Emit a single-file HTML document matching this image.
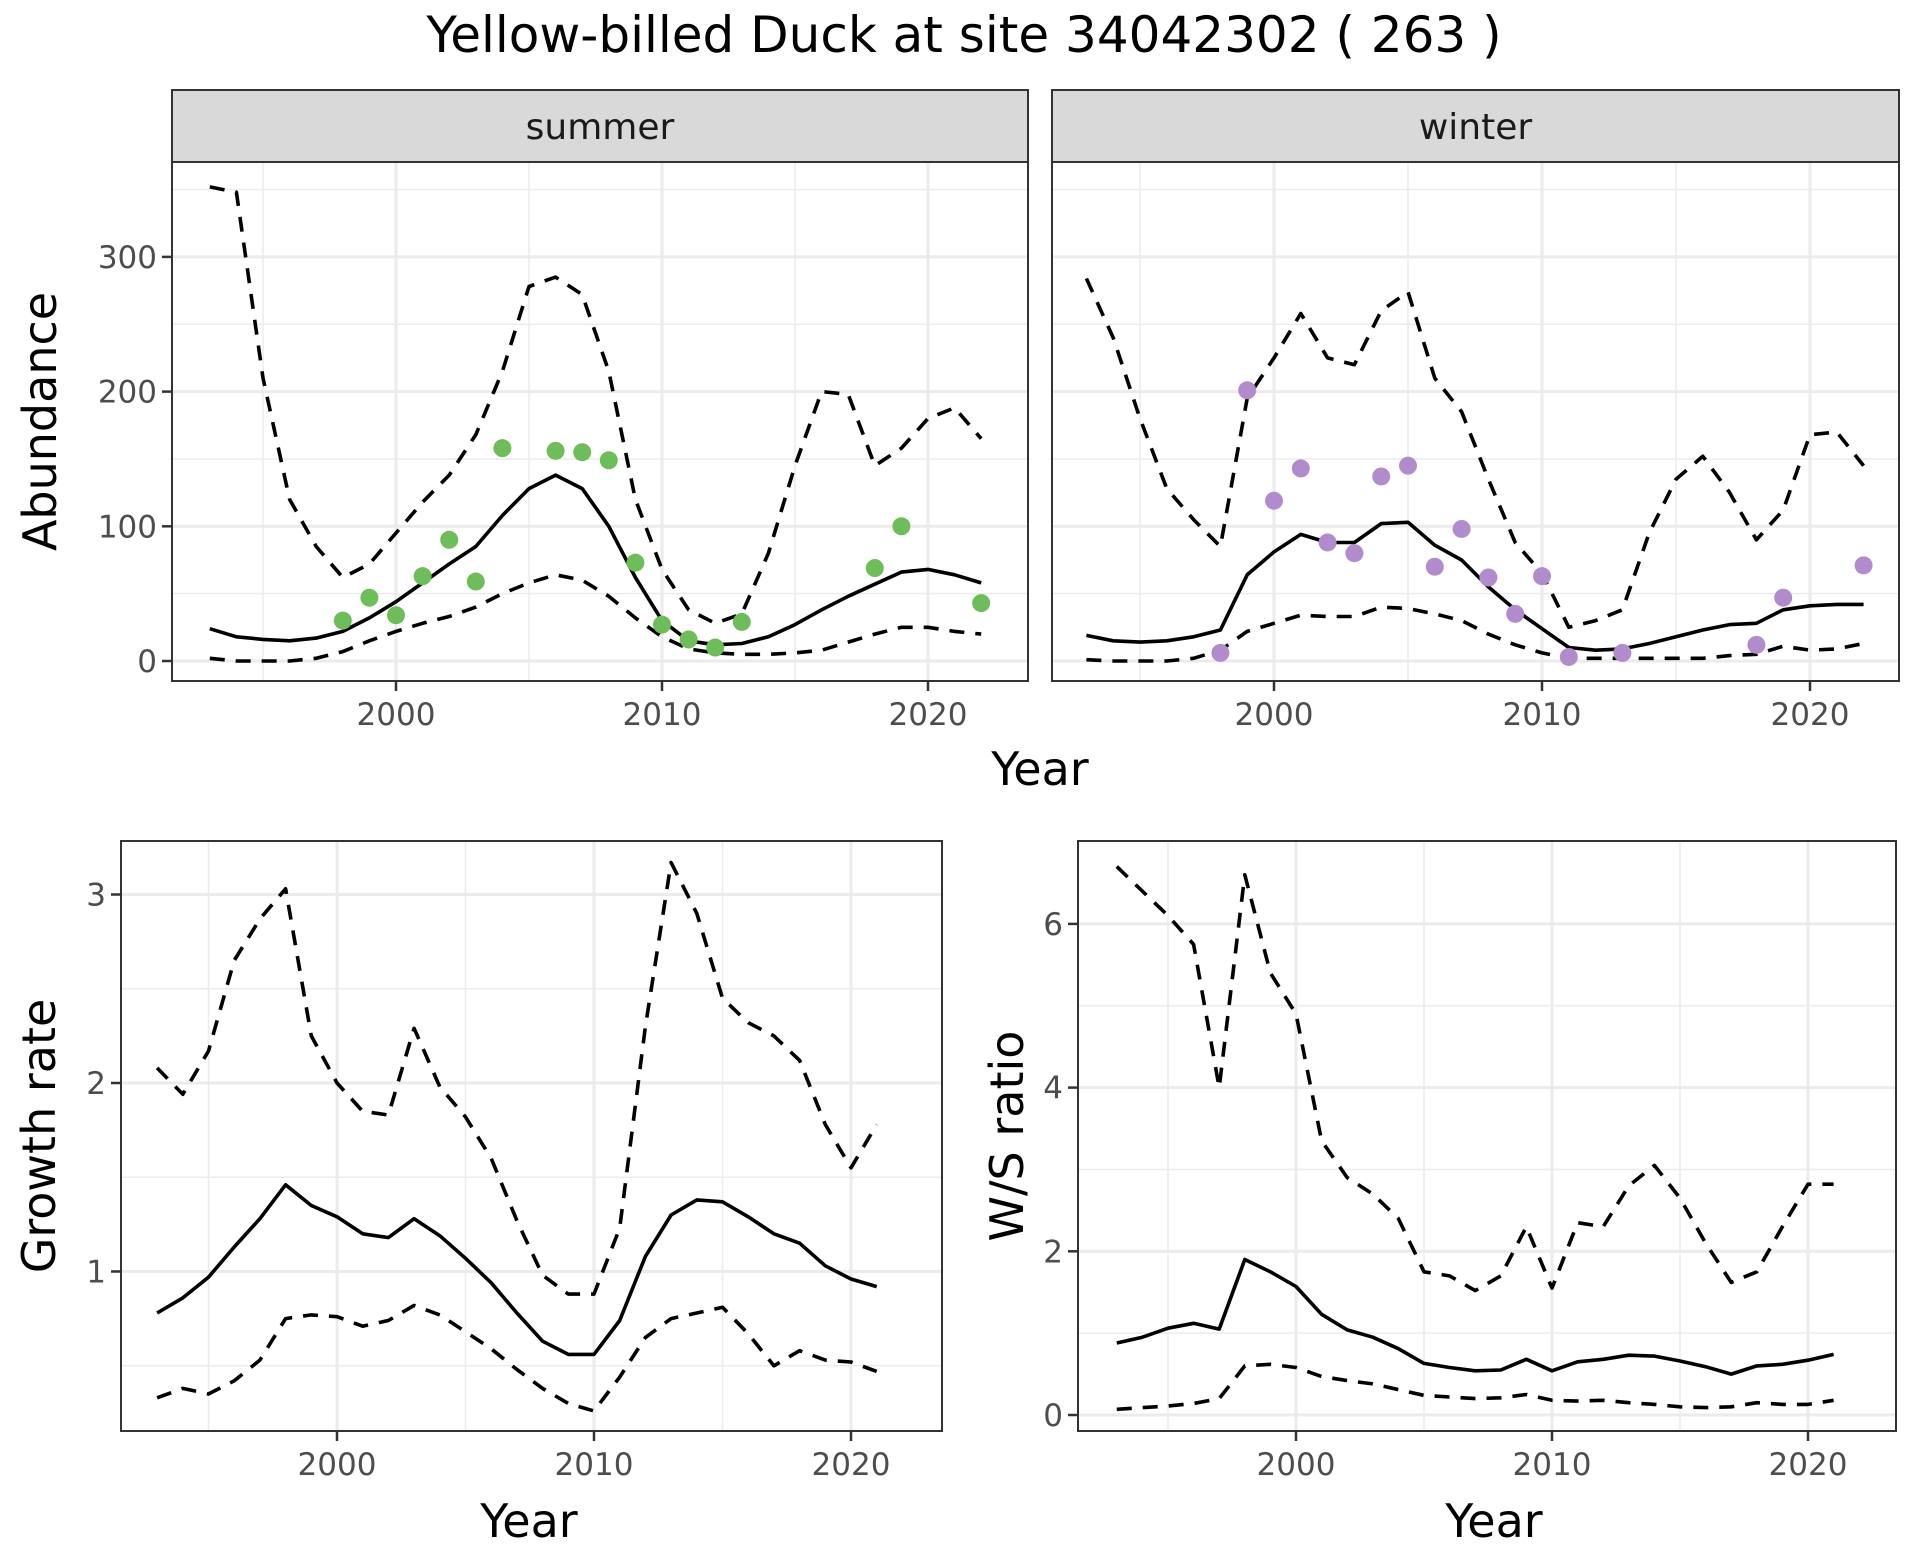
<!DOCTYPE html>
<html><head><meta charset="utf-8"><style>
html,body{margin:0;padding:0;background:#fff;}
svg{display:block;font-family:"DejaVu Sans","Liberation Sans",sans-serif;}
</style></head><body>
<svg id="chart" width="1920" height="1560" viewBox="0 0 1920 1560" xmlns="http://www.w3.org/2000/svg">
<rect width="1920" height="1560" fill="#fff"/>
<text x="964" y="52" font-size="50" text-anchor="middle" fill="#000">Yellow-billed Duck at site 34042302 ( 263 )</text>
</svg>
<script>
const years = [1993,1994,1995,1996,1997,1998,1999,2000,2001,2002,2003,2004,2005,2006,2007,2008,2009,2010,2011,2012,2013,2014,2015,2016,2017,2018,2019,2020,2021,2022];
const summerMean = [24,18,16,15,17,22,32,44,58,72,85,108,128,138,128,100,62,30,15,12,13,18,27,38,48,57,66,68,64,58];
const summerUpper = [352,348,210,120,85,62,72,95,118,138,168,215,278,285,272,215,120,68,38,28,35,80,145,200,198,145,158,180,188,165];
const summerLower = [2,0,0,0,2,7,15,22,28,33,40,50,58,64,60,48,32,18,9,6,5,5,6,8,14,20,25,25,22,20];
const summerObsYears = [1998,1999,2000,2001,2002,2003,2004,2006,2007,2008,2009,2010,2011,2012,2013,2018,2019,2022];
const summerObs = [30,47,34,63,90,59,158,156,155,149,73,27,16,10,29,69,100,43];
const winterMean = [19,15,14,15,18,23,64,81,94,88,88,102,103,86,75,55,38,24,10,8,9,13,18,23,27,28,38,41,42,42];
const winterUpper = [284,240,180,128,105,85,195,225,258,225,220,260,274,210,185,135,88,65,25,30,38,95,135,152,125,90,112,168,170,145];
const winterLower = [1,0,0,0,2,8,22,28,34,33,33,40,39,35,30,20,12,6,2,2,2,2,2,2,4,5,11,8,9,13];
const winterObsYears = [1998,1999,2000,2001,2002,2003,2004,2005,2006,2007,2008,2009,2010,2011,2013,2018,2019,2022];
const winterObs = [6,201,119,143,88,80,137,145,70,98,62,35,63,3,6,12,47,71];
const ratioYears = [1993,1994,1995,1996,1997,1998,1999,2000,2001,2002,2003,2004,2005,2006,2007,2008,2009,2010,2011,2012,2013,2014,2015,2016,2017,2018,2019,2020,2021];
const growthMean = [0.78,0.86,0.97,1.13,1.28,1.46,1.35,1.29,1.20,1.18,1.28,1.19,1.07,0.94,0.78,0.63,0.56,0.56,0.74,1.08,1.30,1.38,1.37,1.29,1.20,1.15,1.03,0.96,0.92];
const growthUpper = [2.08,1.94,2.17,2.65,2.87,3.03,2.25,2.00,1.85,1.83,2.29,1.98,1.82,1.60,1.27,0.98,0.88,0.88,1.23,2.30,3.17,2.90,2.45,2.32,2.25,2.12,1.78,1.55,1.78];
const growthLower = [0.33,0.38,0.35,0.42,0.53,0.75,0.77,0.76,0.71,0.74,0.82,0.77,0.68,0.59,0.48,0.38,0.30,0.26,0.44,0.65,0.75,0.78,0.81,0.67,0.50,0.58,0.53,0.52,0.47];
const wsMean = [0.88,0.95,1.06,1.12,1.05,1.90,1.75,1.57,1.23,1.04,0.95,0.81,0.63,0.58,0.54,0.55,0.68,0.54,0.65,0.68,0.73,0.72,0.66,0.59,0.50,0.60,0.62,0.67,0.74];
const wsUpper = [6.7,6.4,6.1,5.75,4.0,6.6,5.4,4.9,3.35,2.9,2.7,2.4,1.75,1.7,1.52,1.7,2.3,1.55,2.35,2.3,2.8,3.05,2.65,2.1,1.62,1.75,2.3,2.82,2.82];
const wsLower = [0.07,0.09,0.11,0.14,0.2,0.6,0.62,0.58,0.47,0.42,0.38,0.31,0.24,0.22,0.2,0.21,0.25,0.18,0.17,0.18,0.15,0.13,0.1,0.09,0.1,0.15,0.13,0.13,0.18];
const xTicks = [2000,2010,2020];
const xMinor = [1995,2005,2015];
const abundTicks = [0,100,200,300];
const abundMinor = [50,150,250,350];
const growthTicks = [1,2,3];
const growthMinor = [0.5,1.5,2.5];
const wsTicks = [0,2,4,6];
const wsMinor = [1,3,5];

const NS='http://www.w3.org/2000/svg';
const svg=document.getElementById('chart');
function el(tag,attrs,parent){const e=document.createElementNS(NS,tag);for(const k in attrs)e.setAttribute(k,attrs[k]);(parent||svg).appendChild(e);return e;}

function panel(cfg){
  const g=el('g',{});
  
  
  const sx=v=>cfg.x0+(v-2000)*cfg.pxYear;
  const sy=v=>cfg.yZero-v*cfg.pxUnit;
  el('rect',{x:cfg.L,y:cfg.T,width:cfg.R-cfg.L,height:cfg.B-cfg.T,fill:'#fff'},g);
  cfg.yMinor.forEach(v=>{if(sy(v)<cfg.T)return;const l=el('line',{x1:cfg.L,x2:cfg.R,y1:sy(v),y2:sy(v),stroke:'#ebebeb','stroke-width':1.5},g);
    });
  xMinor.forEach(v=>{const l=el('line',{x1:sx(v),x2:sx(v),y1:cfg.T,y2:cfg.B,stroke:'#ebebeb','stroke-width':1.5},g);
    });
  cfg.yTicks.forEach(v=>{const l=el('line',{x1:cfg.L,x2:cfg.R,y1:sy(v),y2:sy(v),stroke:'#ebebeb','stroke-width':3},g);
    });
  xTicks.forEach(v=>{const l=el('line',{x1:sx(v),x2:sx(v),y1:cfg.T,y2:cfg.B,stroke:'#ebebeb','stroke-width':3},g);
    });
  const line=(xs,ys,dash,nm)=>{
    const d=xs.map((x,i)=>(i?'L':'M')+sx(x).toFixed(1)+','+sy(ys[i]).toFixed(1)).join(' ');
    const p=el('path',{d:d,fill:'none',stroke:'#000','stroke-width':3.6,'stroke-linejoin':'round'},g);
    if(dash)p.setAttribute('stroke-dasharray','15 11');
    
    
  };
  line(cfg.xs,cfg.upper,true,'upper-ci-line');
  line(cfg.xs,cfg.lower,true,'lower-ci-line');
  line(cfg.xs,cfg.mean,false,'mean-line');
  if(cfg.obs){cfg.obsX.forEach((x,i)=>{const c=el('circle',{cx:sx(x),cy:sy(cfg.obs[i]),r:9,fill:cfg.color},g);
    });}
  el('rect',{x:cfg.L,y:cfg.T,width:cfg.R-cfg.L,height:cfg.B-cfg.T,fill:'none',stroke:'#333','stroke-width':2},g);
  if(cfg.strip){const s=el('rect',{x:cfg.L,y:cfg.T-72,width:cfg.R-cfg.L,height:72,fill:'#d9d9d9',stroke:'#333','stroke-width':2},g);
    
    const t=el('text',{x:(cfg.L+cfg.R)/2,y:cfg.T-23,'font-size':36,'text-anchor':'middle',fill:'#1a1a1a'},g);t.textContent=cfg.strip;
    }
  xTicks.forEach(v=>{el('line',{x1:sx(v),x2:sx(v),y1:cfg.B,y2:cfg.B+10,stroke:'#333','stroke-width':2.5},g);
    const t=el('text',{x:sx(v),y:cfg.B+44,'font-size':31,'text-anchor':'middle',fill:'#4d4d4d'},g);t.textContent=v;
    });
  if(cfg.yLabels){cfg.yTicks.forEach(v=>{el('line',{x1:cfg.L-10,x2:cfg.L,y1:sy(v),y2:sy(v),stroke:'#333','stroke-width':2.5},g);
    const t=el('text',{x:cfg.L-15,y:sy(v)+11,'font-size':31,'text-anchor':'end',fill:'#4d4d4d'},g);t.textContent=v;
    });}
  if(cfg.ytitle){const t=el('text',{x:0,y:0,'font-size':46,'text-anchor':'middle',fill:'#000',transform:`translate(${cfg.ytx},${(cfg.T+cfg.B)/2}) rotate(-90)`},g);t.textContent=cfg.ytitle;
    }
  if(cfg.xtitle){const t=el('text',{x:cfg.xtx,y:cfg.xty,'font-size':46,'text-anchor':'middle',fill:'#000'},g);t.textContent='Year';
    }
}
panel({name:'summer-panel',L:172,R:1028,T:162,B:681,x0:396,pxYear:26.6,yZero:661,pxUnit:1.347,
  yTicks:abundTicks,yMinor:abundMinor,xs:years,mean:summerMean,upper:summerUpper,lower:summerLower,
  obsX:summerObsYears,obs:summerObs,color:'#6dbd5b',strip:'summer',yLabels:true,ytitle:'Abundance',ytx:56});
panel({name:'winter-panel',L:1052,R:1899,T:162,B:681,x0:1274,pxYear:26.8,yZero:661,pxUnit:1.347,
  yTicks:abundTicks,yMinor:abundMinor,xs:years,mean:winterMean,upper:winterUpper,lower:winterLower,
  obsX:winterObsYears,obs:winterObs,color:'#b18bcb',strip:'winter',yLabels:false});
const yt=el('text',{x:1040,y:785,'font-size':46,'text-anchor':'middle',fill:'#000'});yt.textContent='Year';


panel({name:'growth-rate-panel',L:121,R:942,T:841,B:1431,x0:337,pxYear:25.7,yZero:1460,pxUnit:188.5,
  yTicks:growthTicks,yMinor:growthMinor,xs:ratioYears,mean:growthMean,upper:growthUpper,lower:growthLower,
  yLabels:true,ytitle:'Growth rate',ytx:55,xtitle:true,xtx:529,xty:1537});
panel({name:'ws-ratio-panel',L:1078,R:1896,T:841,B:1431,x0:1296,pxYear:25.6,yZero:1415,pxUnit:81.85,
  yTicks:wsTicks,yMinor:wsMinor,xs:ratioYears,mean:wsMean,upper:wsUpper,lower:wsLower,
  yLabels:true,ytitle:'W/S ratio',ytx:1023,xtitle:true,xtx:1494,xty:1537});
</script>
</body></html>
